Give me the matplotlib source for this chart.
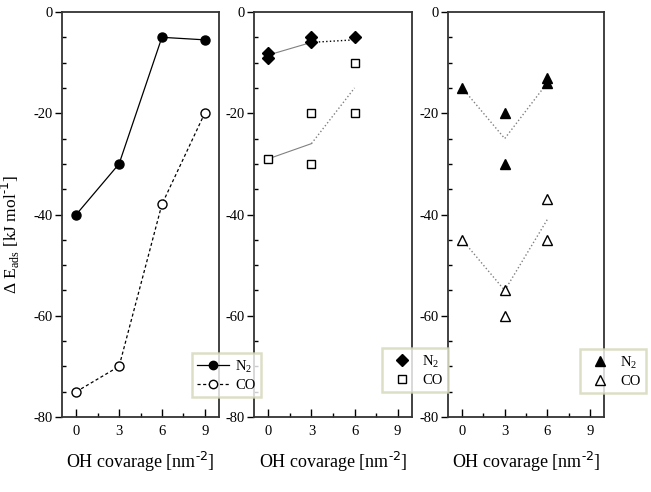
import matplotlib
matplotlib.use("Agg")
import matplotlib.pyplot as plt
from matplotlib.lines import Line2D
import numpy as np

plt.rcParams['font.family'] = ['Liberation Serif', 'DejaVu Serif']
plt.rcParams['axes.unicode_minus'] = False

# panel 1: averaged lines with symbols
x1 = [0, 3, 6, 9]
n2_p1 = [-40, -30, -5, -5.5]
co_p1 = [-75, -70, -38, -20]

# panel 2: scatter points + trend line
x2_pts = [0, 0, 3, 3, 6]
n2_p2 = [-8, -9, -5, -6, -5]
x2_co = [0, 3, 3, 6, 6]
co_p2 = [-29, -20, -30, -10, -20]
x2_line = [0, 3, 6]
n2_p2_line = [-8.5, -6, -5.5]
co_p2_line = [-29, -26, -15]

# panel 3
x3_n2 = [0, 3, 3, 6, 6]
n2_p3 = [-15, -20, -30, -13, -14]
x3_co = [0, 3, 3, 6, 6]
co_p3 = [-45, -55, -60, -37, -45]
x3_line = [0, 3, 6]
n2_p3_line = [-15, -25, -14]
co_p3_line = [-45, -55, -41]

W, H = 651, 492
fig = plt.figure(figsize=(W / 100, H / 100), dpi=100)

boxes = [(62, 219), (254, 412), (448, 604)]
top, bot = 12, 417
axes = []
for l, r in boxes:
    ax = fig.add_axes([l / W, 1 - bot / H, (r - l) / W, (bot - top) / H])
    ax.set_xlim(-1, 10)
    ax.set_ylim(-80, 0)
    ax.set_xticks([0, 3, 6, 9])
    ax.set_xticks([1.5, 4.5, 7.5], minor=True)
    ax.set_yticks([0, -20, -40, -60, -80])
    ax.set_yticks(np.arange(-75, 0, 5), minor=True)
    ax.tick_params(axis='x', which='major', direction='in', length=6, width=1, labelsize=10.5, pad=6)
    ax.tick_params(axis='x', which='minor', direction='in', length=3, width=1)
    ax.tick_params(axis='y', which='major', direction='out', length=5, width=1, labelsize=10.5, pad=2)
    ax.tick_params(axis='y', which='minor', direction='in', length=3, width=1)
    for s in ax.spines.values():
        s.set_linewidth(1.3)
        s.set_color('#333333')
    ax.set_xlabel('OH covarage [nm$^{\\mathregular{\u2010}2}$]', fontsize=13, labelpad=8)
    axes.append(ax)

ax1, ax2, ax3 = axes

ax1.plot(x1, n2_p1, '-', color='black', lw=0.9, marker='o', ms=6.5, mfc='black', mec='black')
ax1.plot(x1, co_p1, color='black', lw=0.9, ls=(0, (2.5, 2)), marker='o', ms=6.5, mfc='white', mec='black')
ax1.set_ylabel('Δ E$_{\\mathregular{ads}}$ [kJ mol$^{\\mathregular{\u2010}1}$]', fontsize=12.5)
ax1.yaxis.set_label_coords(-0.255, 0.45)

ax2.plot(x2_line[:2], n2_p2_line[:2], '-', color='gray', lw=0.8)
ax2.plot(x2_line[1:], n2_p2_line[1:], ':', color='black', lw=1.0)
ax2.plot(x2_line[:2], co_p2_line[:2], '-', color='gray', lw=0.8)
ax2.plot(x2_line[1:], co_p2_line[1:], ':', color='gray', lw=1.0)
ax2.plot(x2_pts, n2_p2, 'D', color='black', ms=6.5, ls='none')
ax2.plot(x2_co, co_p2, 's', mfc='white', mec='black', mew=1.0, ms=5.5, ls='none')

ax3.plot(x3_line, n2_p3_line, ':', color='gray', lw=1.0)
ax3.plot(x3_line, co_p3_line, ':', color='gray', lw=1.0)
ax3.plot(x3_n2, n2_p3, '^', color='black', ms=7, ls='none')
ax3.plot(x3_co, co_p3, '^', mfc='white', mec='black', mew=1.0, ms=7, ls='none')

leg_kw = dict(fontsize=10.5, frameon=True, fancybox=False, edgecolor='#d4d8b8',
              borderpad=0.35, labelspacing=0.25, handletextpad=0.4, borderaxespad=0)

h1 = [Line2D([], [], color='black', lw=0.9, marker='o', ms=6, mfc='black'),
      Line2D([], [], color='black', lw=0.9, ls=(0, (2.5, 2)), marker='o', ms=6, mfc='white')]
lg = fig.legend(h1, ['N$_{\\mathregular{2}}$', 'CO'], loc='lower left',
                bbox_to_anchor=(192 / W, 1 - 397 / H), handlelength=2.2, **leg_kw)
lg.get_frame().set_linewidth(1.8)

h2 = [Line2D([], [], ls='none', marker='D', ms=6, color='black'),
      Line2D([], [], ls='none', marker='s', ms=5.5, mfc='white', mec='black')]
lg = fig.legend(h2, ['N$_{\\mathregular{2}}$', 'CO'], loc='lower left',
                bbox_to_anchor=(382 / W, 1 - 392 / H), handlelength=2.0, **leg_kw)
lg.get_frame().set_linewidth(1.8)

h3 = [Line2D([], [], ls='none', marker='^', ms=7, color='black'),
      Line2D([], [], ls='none', marker='^', ms=7, mfc='white', mec='black')]
lg = fig.legend(h3, ['N$_{\\mathregular{2}}$', 'CO'], loc='lower left',
                bbox_to_anchor=(580 / W, 1 - 393 / H), handlelength=2.0, **leg_kw)
lg.get_frame().set_linewidth(1.8)

fig.savefig('out.png', dpi=100)
